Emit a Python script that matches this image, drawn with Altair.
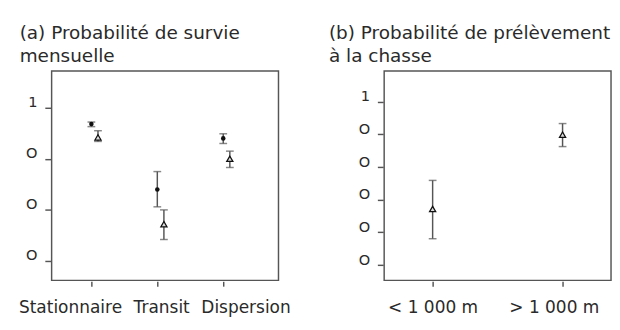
import json
import altair as alt
import pandas as pd

# ---- Data ----
categories_a = ["Stationnaire", "Transit", "Dispersion"]
circle_mean = [0.968, 0.840, 0.940]
circle_lo = [0.963, 0.806, 0.930]
circle_hi = [0.972, 0.875, 0.949]
tri_mean = [0.942, 0.772, 0.900]
tri_lo = [0.934, 0.742, 0.883]
tri_hi = [0.955, 0.800, 0.915]

categories_b = ["< 1 000 m", "> 1 000 m"]
hunt_mean = [0.343, 0.798]
hunt_lo = [0.161, 0.725]
hunt_hi = [0.518, 0.866]

yticks_a = [0.7, 0.8, 0.9, 1.0]
yticks_b = [0.0, 0.2, 0.4, 0.6, 0.8, 1.0]
# tick labels as printed in the original
ylabel_top = "1"
ylabel_other = "O"

# horizontal nudges of the category labels (as typeset in the original)
label_nudge_a = [-22, 4, 23]
label_nudge_b = [0, -9]

DODGE = 0.1
FONT = "DejaVu Sans"
INK = "#2a2a2a"
GREY = "#555555"

rows_a = []
for i, c in enumerate(categories_a):
    rows_a.append({"pos": i, "cat": c, "series": "circle",
                   "m": circle_mean[i], "lo": circle_lo[i], "hi": circle_hi[i]})
    rows_a.append({"pos": i + DODGE, "cat": c, "series": "triangle",
                   "m": tri_mean[i], "lo": tri_lo[i], "hi": tri_hi[i]})
df_a = pd.DataFrame(rows_a)

df_b = pd.DataFrame({"pos": list(range(len(categories_b))), "cat": categories_b,
                     "m": hunt_mean, "lo": hunt_lo, "hi": hunt_hi})


def panel(df, cats, nudges, xdomain, ydomain, yticks, title_lines, title_dx, with_circles):
    label_expr = json.dumps(cats) + "[round(datum.value)]"
    conds = [{"test": f"round(datum.value) == {i}", "value": n}
             for i, n in enumerate(nudges) if n != 0]
    x = alt.X("pos:Q", scale=alt.Scale(domain=xdomain, nice=False, zero=False),
              axis=alt.Axis(values=list(range(len(cats))), labelExpr=label_expr,
                            title=None, grid=False, domain=False, ticks=True,
                            tickSize=5, tickColor=GREY, tickWidth=1.5, offset=1,
                            labelFont=FONT, labelFontSize=17.5, labelColor=INK,
                            labelPadding=13, labelFlush=False, labelOverlap=False,
                            labelOffset={"condition": conds, "value": 0}))
    yscale = alt.Scale(domain=ydomain, nice=False, zero=False)
    ylab = f"datum.value >= 1 ? {json.dumps(ylabel_top)} : {json.dumps(ylabel_other)}"
    y = alt.Y("m:Q", scale=yscale,
              axis=alt.Axis(values=yticks, labelExpr=ylab,
                            title=None, grid=False, domain=False, tickSize=6,
                            tickColor=GREY, tickWidth=1.5, offset=1,
                            labelFont=FONT, labelFontSize=15, labelColor=INK,
                            labelPadding=8, labelOverlap=False,
                            labelBaseline="alphabetic", labelOffset=-1))
    base = alt.Chart(df)
    rule = base.mark_rule(color=GREY, strokeWidth=1.5).encode(
        x=x, y=alt.Y("lo:Q", scale=yscale), y2="hi:Q")
    cap_lo = base.mark_tick(color=GREY, orient="horizontal", size=8, thickness=1.5).encode(
        x=x, y=alt.Y("lo:Q", scale=yscale))
    cap_hi = base.mark_tick(color=GREY, orient="horizontal", size=8, thickness=1.5).encode(
        x=x, y=alt.Y("hi:Q", scale=yscale))
    tri_style = dict(shape="triangle-up", filled=True, fill="#dddddd", stroke="#111111",
                     strokeWidth=1.3, size=40, opacity=1)
    if with_circles:
        circ = base.transform_filter("datum.series == 'circle'").mark_point(
            shape="circle", filled=True, color="#111111", size=22, opacity=1).encode(x=x, y=y)
        tri = base.transform_filter("datum.series == 'triangle'").mark_point(
            **tri_style).encode(x=x, y=y)
        layers = [rule, cap_lo, cap_hi, circ, tri]
    else:
        tri = base.mark_point(**tri_style).encode(x=x, y=y)
        layers = [rule, cap_lo, cap_hi, tri]
    return alt.layer(*layers).properties(
        width=234, height=216,
        view=alt.ViewBackground(stroke=GREY, strokeWidth=1.5, fill="white"),
        title=alt.TitleParams(text=title_lines, anchor="start", frame="group",
                              font=FONT, fontSize=19, fontWeight="normal", color=INK,
                              dx=title_dx, offset=5, lineHeight=24),
    )


pa = panel(df_a, categories_a, label_nudge_a, [-0.603, 2.838], [0.662, 1.072], yticks_a,
           ["(a) Probabilité de survie", "mensuelle"], -33, True)
pb = panel(df_b, categories_b, label_nudge_b, [-0.373, 1.373], [-0.094, 1.188], yticks_b,
           ["(b) Probabilité de prélèvement", "à la chasse"], -57, False)

chart = alt.hconcat(pa, pb, spacing=38).properties(
    padding={"left": 10, "top": 11, "right": 0, "bottom": 0}
).configure_view(stroke=GREY, strokeWidth=1.5).configure(background="white")

chart.save("out.html", embed_options={"renderer": "svg", "actions": False})
